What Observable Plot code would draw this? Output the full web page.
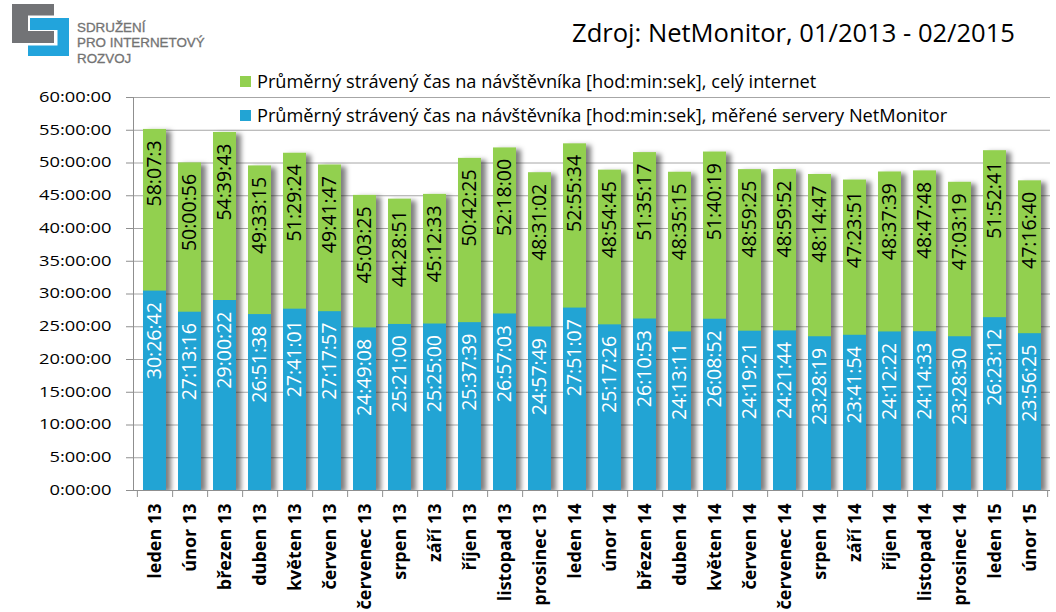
<!DOCTYPE html>
<html>
<head>
<meta charset="utf-8">
<script src="https://cdn.jsdelivr.net/npm/d3@7"></script>
<script src="https://cdn.jsdelivr.net/npm/@observablehq/plot@0.6"></script>
<style>
  body { margin: 0; background: #fff; }
  #wrap { position: relative; width: 1056px; height: 612px; overflow: hidden; }
  #wrap > svg { position: absolute; left: 0; top: 0; }
  #deco { pointer-events: none; }
</style>
</head>
<body>
<div id="wrap"></div>
<script>
// ---------- data ----------
const months = ["leden 13","únor 13","březen 13","duben 13","květen 13","červen 13","červenec 13","srpen 13","září 13","říjen 13","listopad 13","prosinec 13",
  "leden 14","únor 14","březen 14","duben 14","květen 14","červen 14","červenec 14","srpen 14","září 14","říjen 14","listopad 14","prosinec 14",
  "leden 15","únor 15"];
// celý internet – bar heights (hod:min:sek)
const internetTime = ["55:07:30","50:00:56","54:39:43","49:33:15","51:29:24","49:41:47","45:03:25","44:28:51","45:12:33","50:42:25","52:18:00","48:31:02",
  "52:55:34","48:54:45","51:35:17","48:35:15","51:40:19","48:59:25","48:59:52","48:14:47","47:23:51","48:37:39","48:47:48","47:03:19","51:52:41","47:16:40"];
// celý internet – labels as printed
const internetLabel = ["58:07:3","50:00:56","54:39:43","49:33:15","51:29:24","49:41:47","45:03:25","44:28:51","45:12:33","50:42:25","52:18:00","48:31:02",
  "52:55:34","48:54:45","51:35:17","48:35:15","51:40:19","48:59:25","48:59:52","48:14:47","47:23:51","48:37:39","48:47:48","47:03:19","51:52:41","47:16:40"];
// měřené servery NetMonitor
const netmonTime = ["30:26:42","27:13:16","29:00:22","26:51:38","27:41:01","27:17:57","24:49:08","25:21:00","25:25:00","25:37:39","26:57:03","24:57:49",
  "27:51:07","25:17:26","26:10:53","24:13:11","26:08:52","24:19:21","24:21:44","23:28:19","23:41:54","24:12:22","24:14:33","23:28:30","26:23:12","23:56:25"];
const yTicks = [0,5,10,15,20,25,30,35,40,45,50,55,60];
const seriesNames = ["Průměrný strávený čas na návštěvníka [hod:min:sek], celý internet",
                     "Průměrný strávený čas na návštěvníka [hod:min:sek], měřené servery NetMonitor"];
const titleText = "Zdroj: NetMonitor, 01/2013 - 02/2015";
const logoLines = ["SDRUŽENÍ","PRO INTERNETOVÝ","ROZVOJ"];

// ---------- style ----------
const GREEN = "#92d050", BLUE = "#22a4d4", GRID = "#a6a6a6", AXIS = "#8f8f8f";
const FONT = "'Open Sans', sans-serif";
const W = 1056, H = 612, mL = 133, mR = 6, mT = 97, mB = 122;
const step = (W - mL - mR) / months.length;

const toHours = s => { const [h, m, sec] = s.split(":").map(Number); return h + (m || 0) / 60 + (sec || 0) / 3600; };
const data = months.map((m, i) => ({
  month: m,
  internet: toHours(internetTime[i]), internetLabel: internetLabel[i],
  netmon: toHours(netmonTime[i]), netmonLabel: netmonTime[i]
}));

const chart = Plot.plot({
  width: W, height: H,
  marginLeft: mL, marginRight: mR, marginTop: mT, marginBottom: mB,
  style: { fontFamily: FONT, fontSize: "14px", background: "transparent", color: "#000" },
  x: { type: "band", domain: months, paddingInner: 0.35, paddingOuter: 0.175, label: null },
  y: { domain: [0, 60], label: null },
  marks: [
    Plot.gridY(yTicks, { stroke: GRID, strokeOpacity: 1 }),
    Plot.barY(data, { x: "month", y: "internet", fill: GREEN }),
    Plot.barY(data, { x: "month", y: "netmon", fill: BLUE }),
    Plot.ruleY([0], { stroke: AXIS }),
    Plot.frame({ anchor: "left", stroke: AXIS }),
    Plot.axisY(yTicks, { tickSize: 7, tickPadding: 15, stroke: AXIS, tickFormat: h => `${h}:00:00`, fontSize: 14, fill: "#000", label: null }),
    Plot.axisX({ tickSize: 7, tickFormat: () => "", dx: step / 2, stroke: AXIS, label: null }),
    Plot.axisX([months[0]], { tickSize: 7, tickFormat: () => "", dx: -step / 2, stroke: AXIS, label: null }),
    Plot.text(data, { x: "month", y: "internet", text: "internetLabel", rotate: -90, textAnchor: "end", lineAnchor: "middle",
      dy: 11, fill: "#000", fontSize: 19.5 }),
    Plot.text(data, { x: "month", y: "netmon", text: "netmonLabel", rotate: -90, textAnchor: "end", lineAnchor: "middle",
      dy: 11, fill: "#fff", fontSize: 19.5 }),
    Plot.text(months, { x: d => d, frameAnchor: "bottom", rotate: -90, textAnchor: "end", lineAnchor: "middle",
      dy: 13, fill: "#000", fontSize: 18, fontWeight: "bold" })
  ]
});
const wrap = document.getElementById("wrap");
wrap.appendChild(chart);

// ---------- bar shadows ----------
const ns = "http://www.w3.org/2000/svg";
const svg = d3.select(chart);
const defs = svg.insert("defs", ":first-child");
const flt = defs.append("filter").attr("id", "barShadow")
  .attr("x", "-5%").attr("y", "-5%").attr("width", "115%").attr("height", "115%");
flt.append("feDropShadow").attr("dx", 5).attr("dy", 2).attr("stdDeviation", 2.8)
  .attr("flood-color", "#000").attr("flood-opacity", 0.5);
defs.append("clipPath").attr("id", "plotClip").append("rect")
  .attr("x", mL).attr("y", 0).attr("width", W - mL - mR).attr("height", H - mB);
const bars = svg.selectAll('g[aria-label="bar"]').nodes();
if (bars.length) {
  const outer = document.createElementNS(ns, "g");
  outer.setAttribute("clip-path", "url(#plotClip)");
  const inner = document.createElementNS(ns, "g");
  inner.setAttribute("filter", "url(#barShadow)");
  bars[0].parentNode.insertBefore(outer, bars[0]);
  outer.appendChild(inner);
  bars.forEach(b => inner.appendChild(b));
}
// widen y tick labels to match the reference proportions
const yLabels = svg.selectAll('g[aria-label="y-axis tick label"] text').nodes();
const ref = yLabels.find(t => t.textContent === "60:00:00");
if (ref) {
  const k = 72.5 / ref.getComputedTextLength();
  yLabels.forEach(t => {
    t.setAttribute("textLength", (t.getComputedTextLength() * k).toFixed(2));
    t.setAttribute("lengthAdjust", "spacingAndGlyphs");
  });
}

// ---------- decorations: logo, title, legend ----------
const deco = d3.select(wrap).append("svg").attr("id", "deco")
  .attr("width", W).attr("height", H).style("font-family", FONT);
const fit = (sel, target) => {
  const n = sel.node(); const fs = parseFloat(sel.attr("font-size"));
  const f = fs * target / n.getComputedTextLength(); sel.attr("font-size", f.toFixed(2)); return f;
};
// logo
deco.append("path").attr("fill", "#727376")
  .attr("d", "M12,4H54V15.5H28V31H54V43H12Z");
deco.append("path").attr("fill", "#22a4dc")
  .attr("d", "M30,18H69V56H28V45.5H57.5V30H30Z");
logoLines.forEach((s, i) => deco.append("text").attr("x", 77).attr("y", 32 + i * 15.3)
  .attr("font-family", "'Liberation Sans', Arial, sans-serif").attr("font-size", 13.4)
  .attr("fill", "#737373").attr("stroke", "#737373").attr("stroke-width", 0.3).text(s));
// title
fit(deco.append("text").attr("x", 572).attr("y", 42).attr("font-size", 26).attr("fill", "#000").text(titleText), 443);
// legend
const legendY = [76, 110], legendColors = [GREEN, BLUE], legendW = [560, 691];
seriesNames.forEach((s, i) => {
  deco.append("rect").attr("x", 240).attr("y", legendY[i]).attr("width", 11).attr("height", 11).attr("fill", legendColors[i]);
  fit(deco.append("text").attr("x", 257).attr("y", legendY[i] + 11.5).attr("font-size", 17).attr("fill", "#000").text(s), legendW[i]);
});
</script>
</body>
</html>
